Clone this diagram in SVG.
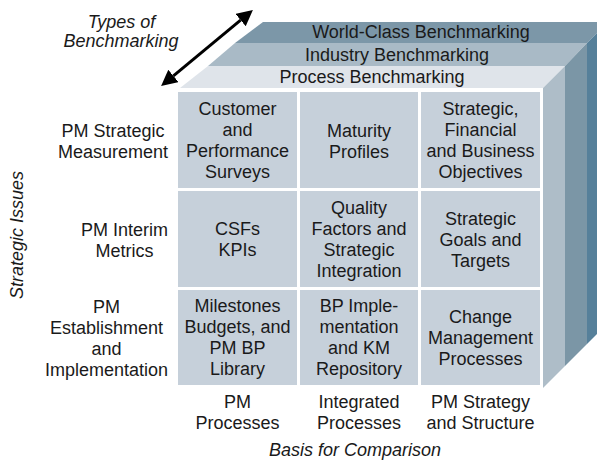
<svg xmlns="http://www.w3.org/2000/svg" width="597" height="464" viewBox="0 0 597 464">
<defs>
<style>
text{font-family:"Liberation Sans",Arial,sans-serif;font-size:18px;fill:#1a1a1a;text-anchor:middle}
.it{font-style:italic}
.cell{fill:#c6d0da}
</style>
<marker id="ah" viewBox="0 0 16 16" refX="0" refY="8" markerWidth="16" markerHeight="16" markerUnits="userSpaceOnUse" orient="auto-start-reverse">
<path d="M0,0 L16,8 L0,16 Z" fill="#000"/>
</marker>
</defs>
<rect width="597" height="464" fill="#fff"/>

<g id="cube">
<polygon points="263,22 597,22 597,33 587,43 235,43" fill="#7c97a8"/>
<polygon points="587,43 597,33 597,334 587,344" fill="#56809a"/>
<polygon points="235,43 587,43 565,66 208,66" fill="#a9bac6"/>
<polygon points="565,66 587,43 587,344 565,366" fill="#7b96a6"/>
<polygon points="208,66 565,66 543,88 180,88" fill="#dfe4ea"/>
<polygon points="543,88 565,66 565,366 543,388" fill="#aebdc8"/>
<rect x="175" y="88" width="368" height="300" fill="#fff"/>
</g>

<g id="band-world"><text x="421" y="38">World-Class Benchmarking</text></g>
<g id="band-industry"><text x="397" y="61">Industry Benchmarking</text></g>
<g id="band-process"><text x="372" y="83">Process Benchmarking</text></g>

<g id="cell-1-1"><rect class="cell" x="178" y="92" width="119" height="96"/>
<text x="237.5" y="115">Customer</text><text x="237.5" y="136">and</text><text x="237.5" y="157">Performance</text><text x="237.5" y="178">Surveys</text></g>
<g id="cell-1-2"><rect class="cell" x="300" y="92" width="118" height="96"/>
<text x="359" y="136.5">Maturity</text><text x="359" y="157.5">Profiles</text></g>
<g id="cell-1-3"><rect class="cell" x="421" y="92" width="119" height="96"/>
<text x="480.5" y="115">Strategic,</text><text x="480.5" y="136">Financial</text><text x="480.5" y="157">and Business</text><text x="480.5" y="178">Objectives</text></g>

<g id="cell-2-1"><rect class="cell" x="178" y="191" width="119" height="96"/>
<text x="237.5" y="235">CSFs</text><text x="237.5" y="256">KPIs</text></g>
<g id="cell-2-2"><rect class="cell" x="300" y="191" width="118" height="96"/>
<text x="359" y="214">Quality</text><text x="359" y="235">Factors and</text><text x="359" y="256">Strategic</text><text x="359" y="277">Integration</text></g>
<g id="cell-2-3"><rect class="cell" x="421" y="191" width="119" height="96"/>
<text x="480.5" y="224.5">Strategic</text><text x="480.5" y="245.5">Goals and</text><text x="480.5" y="266.5">Targets</text></g>

<g id="cell-3-1"><rect class="cell" x="178" y="290" width="119" height="95"/>
<text x="237.5" y="312">Milestones</text><text x="237.5" y="333">Budgets, and</text><text x="237.5" y="354">PM BP</text><text x="237.5" y="375">Library</text></g>
<g id="cell-3-2"><rect class="cell" x="300" y="290" width="118" height="95"/>
<text x="359" y="312">BP Imple-</text><text x="359" y="333">mentation</text><text x="359" y="354">and KM</text><text x="359" y="375">Repository</text></g>
<g id="cell-3-3"><rect class="cell" x="421" y="290" width="119" height="95"/>
<text x="480.5" y="323">Change</text><text x="480.5" y="344">Management</text><text x="480.5" y="365">Processes</text></g>

<g id="row-1"><text x="113" y="137">PM Strategic</text><text x="113" y="158">Measurement</text></g>
<g id="row-2"><text x="124.5" y="236">PM Interim</text><text x="124.5" y="257">Metrics</text></g>
<g id="row-3"><text x="106.5" y="313">PM</text><text x="106.5" y="334">Establishment</text><text x="106.5" y="355">and</text><text x="106.5" y="376">Implementation</text></g>

<g id="col-1"><text x="237.5" y="408">PM</text><text x="237.5" y="429">Processes</text></g>
<g id="col-2"><text x="359" y="408">Integrated</text><text x="359" y="429">Processes</text></g>
<g id="col-3"><text x="480.5" y="408">PM Strategy</text><text x="480.5" y="429">and Structure</text></g>

<g id="axis-basis"><text class="it" x="355" y="456">Basis for Comparison</text></g>
<g id="axis-issues"><text class="it" transform="translate(22.5,235) rotate(-90)">Strategic Issues</text></g>
<g id="axis-types"><text class="it" x="121.5" y="28">Types of</text><text class="it" x="121" y="47">Benchmarking</text></g>

<g id="connectors">
<line x1="173.4" y1="75.9" x2="240.6" y2="20.1" stroke="#000" stroke-width="3" marker-start="url(#ah)" marker-end="url(#ah)"/>
</g>
</svg>
